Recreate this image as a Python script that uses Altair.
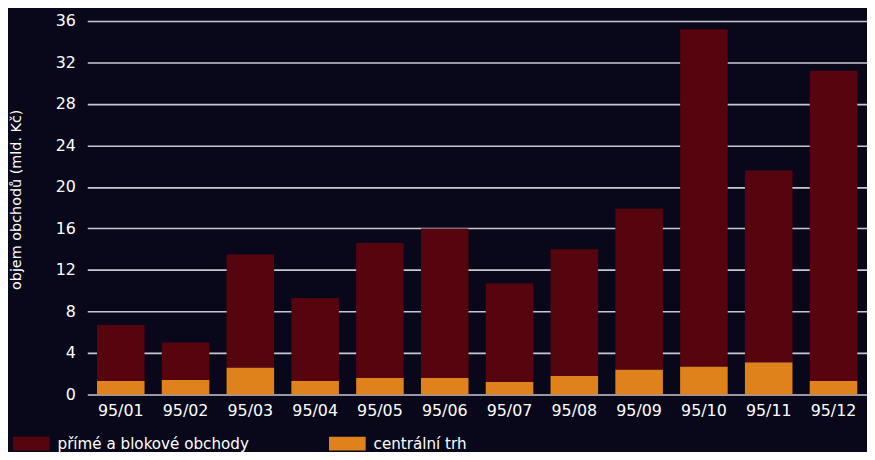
import altair as alt
import pandas as pd

months = ["95/01", "95/02", "95/03", "95/04", "95/05", "95/06",
          "95/07", "95/08", "95/09", "95/10", "95/11", "95/12"]
# central market (orange, bottom segment), bn CZK
central = [1.3, 1.4, 2.6, 1.3, 1.6, 1.6, 1.2, 1.8, 2.4, 2.7, 3.1, 1.3]
# direct and block trades (dark red, top segment), bn CZK
direct = [5.4, 3.6, 10.9, 8.0, 13.0, 14.4, 9.5, 12.2, 15.5, 32.5, 18.5, 29.9]

series_names = ["přímé a blokové obchody", "centrální trh"]
series_colors = ["#56040e", "#e0821c"]
y_ticks = [0, 4, 8, 12, 16, 20, 24, 28, 32, 36]

rows = []
for m, c, d in zip(months, central, direct):
    rows.append({"month": m, "series": series_names[1], "value": c, "ord": 0})
    rows.append({"month": m, "series": series_names[0], "value": d, "ord": 1})
df = pd.DataFrame(rows)

FONT = "DejaVu Sans"

chart = alt.Chart(df).mark_bar().encode(
    x=alt.X("month:N", sort=months,
            scale=alt.Scale(paddingInner=0.266, paddingOuter=0.15),
            axis=alt.Axis(title=None, labelAngle=0, domain=False, ticks=False,
                          labelPadding=8, labelColor="#ffffff",
                          labelFont=FONT, labelFontSize=16)),
    y=alt.Y("value:Q", stack="zero",
            scale=alt.Scale(domain=[0, 36], nice=False),
            axis=alt.Axis(title="objem obchodů (mld. Kč)", values=y_ticks,
                          domain=False, ticks=False, labelPadding=12,
                          labelColor="#ffffff", labelFont=FONT, labelFontSize=16,
                          grid=True, gridColor="#c8c8d2", gridWidth=1.6,
                          titleColor="#ffffff", titleFont=FONT, titleFontSize=14.5,
                          titleFontWeight="normal", titleX=-71, titleY=180,
                          titleAngle=-90, titleBaseline="middle", titleAlign="center")),
    color=alt.Color("series:N",
                    scale=alt.Scale(domain=series_names, range=series_colors),
                    title=None,
                    legend=alt.Legend(orient="none", legendX=-75, legendY=408,
                                      direction="horizontal",
                                      symbolType="M-1,-0.38H1V0.38H-1Z",
                                      symbolSize=1369, symbolStrokeWidth=0,
                                      labelOffset=8, columnPadding=80,
                                      labelLimit=400,
                                      labelColor="#ffffff", labelFont=FONT,
                                      labelFontSize=15.3)),
    order=alt.Order("ord:Q"),
).properties(
    width=787,
    height=377,
    padding={"left": 80, "top": 11, "right": 0, "bottom": 56},
    autosize=alt.AutoSizeParams(type="none"),
    background="#08081a",
).configure_view(stroke=None)

chart.save("out.html", embed_options={"renderer": "svg", "actions": False})
